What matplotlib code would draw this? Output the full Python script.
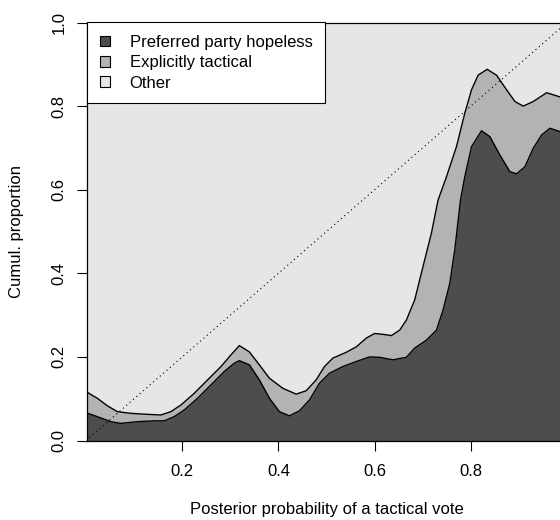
import matplotlib
matplotlib.use("Agg")
import matplotlib.pyplot as plt
from matplotlib.patches import Patch

plt.rcParams["font.family"] = ["Liberation Sans", "DejaVu Sans"]
plt.rcParams["font.size"] = 12

DARK = "#4d4d4d"    # preferred party hopeless
MID = "#b3b3b3"     # explicitly tactical
LIGHT = "#e6e6e6"   # other

# cumulative boundary: hopeless
x_low = [0.0, 0.0235, 0.0515, 0.0723, 0.1069, 0.1417, 0.1625, 0.1833, 0.2042,
         0.2319, 0.2598, 0.2875, 0.3083, 0.3188, 0.3396, 0.3604, 0.3813, 0.4021,
         0.4229, 0.4438, 0.4646, 0.4854, 0.5063, 0.5340, 0.5619, 0.5896, 0.6104,
         0.6381, 0.6660, 0.6833, 0.7077, 0.7285, 0.7423, 0.7563, 0.7667, 0.7785,
         0.7875, 0.8015, 0.8223, 0.8396, 0.8604, 0.8813, 0.8952, 0.9125, 0.9298,
         0.9473, 0.9646, 0.9854, 1.0]
y_low = [0.0665, 0.057, 0.045, 0.041, 0.045, 0.047, 0.047, 0.057, 0.073,
         0.101, 0.133, 0.165, 0.185, 0.191, 0.181, 0.145, 0.101, 0.069,
         0.059, 0.071, 0.097, 0.137, 0.161, 0.177, 0.189, 0.200, 0.199,
         0.193, 0.199, 0.221, 0.240, 0.264, 0.312, 0.376, 0.456, 0.575,
         0.631, 0.703, 0.741, 0.727, 0.683, 0.643, 0.638, 0.655, 0.699,
         0.731, 0.747, 0.739, 0.725]

# cumulative boundary: hopeless + tactical
x_up = [0.0, 0.0235, 0.0444, 0.0652, 0.0931, 0.1208, 0.1556, 0.1765, 0.1973,
        0.2250, 0.2527, 0.2806, 0.3015, 0.3188, 0.3396, 0.3604, 0.3813, 0.4090,
        0.4369, 0.4577, 0.4785, 0.4958, 0.5131, 0.5410, 0.5619, 0.5827, 0.6000,
        0.6173, 0.6348, 0.6521, 0.6660, 0.6833, 0.7006, 0.7181, 0.7319, 0.7494,
        0.7702, 0.7875, 0.8015, 0.8152, 0.8340, 0.8535, 0.8744, 0.8917, 0.9090,
        0.9298, 0.9577, 0.9854, 1.0]
y_up = [0.117, 0.101, 0.083, 0.069, 0.065, 0.063, 0.061, 0.069, 0.085,
        0.113, 0.145, 0.177, 0.205, 0.227, 0.212, 0.181, 0.149, 0.125,
        0.111, 0.119, 0.145, 0.177, 0.197, 0.211, 0.224, 0.245, 0.256,
        0.254, 0.251, 0.264, 0.288, 0.336, 0.416, 0.496, 0.575, 0.631,
        0.703, 0.783, 0.839, 0.874, 0.888, 0.874, 0.839, 0.811, 0.800,
        0.811, 0.832, 0.822, 0.812]

labels = ["Preferred party hopeless", "Explicitly tactical", "Other"]
colors = [DARK, MID, LIGHT]

fig = plt.figure(figsize=(5.6, 5.2), dpi=100)
ax = fig.add_axes([87 / 560, (520 - 440.5) / 520, 480 / 560, 418 / 520])
ax.set_facecolor(LIGHT)

ax.fill_between(x_up, y_up, 0, color=MID, lw=0)
ax.fill_between(x_low, y_low, 0, color=DARK, lw=0)
ax.plot(x_up, y_up, color="black", lw=1, solid_joinstyle="round")
ax.plot(x_low, y_low, color="black", lw=1, solid_joinstyle="round")
ax.plot([0, 1], [0, 1], color="black", lw=0.8, ls=(0, (1, 3)))

ax.set_xlim(0.002, 1.0)
ax.set_ylim(0, 1)
ax.set_xticks([0.2, 0.4, 0.6, 0.8])
ax.set_xticklabels(["0.2", "0.4", "0.6", "0.8"])
ax.set_yticks([0.0, 0.2, 0.4, 0.6, 0.8, 1.0])
ax.set_yticklabels(["0.0", "0.2", "0.4", "0.6", "0.8", "1.0"], rotation=90, va="center")
ax.tick_params(axis="x", length=7, width=0.8, pad=10)
ax.tick_params(axis="y", length=7, width=0.8, pad=7.5)
for s in ax.spines.values():
    s.set_linewidth(0.9)

ax.set_xlabel("Posterior probability of a tactical vote")
ax.xaxis.set_label_coords(0.5, -0.166)
ax.xaxis.label.set_va("center")
ax.set_ylabel("Cumul. proportion")
ax.yaxis.set_label_coords(-0.146, 0.5)
ax.yaxis.label.set_va("center")

handles = [Patch(facecolor=c, edgecolor="black", lw=0.8) for c in colors]
leg = ax.legend(handles, labels, loc="upper left", bbox_to_anchor=(0, 1),
                borderaxespad=0, fancybox=False, framealpha=1,
                edgecolor="black", handlelength=0.6, handleheight=0.6,
                handletextpad=1.2, labelspacing=0.32, borderpad=0.75)
leg.get_frame().set_linewidth(0.8)
leg.set_zorder(5)

fig.savefig("out.png", dpi=100)
